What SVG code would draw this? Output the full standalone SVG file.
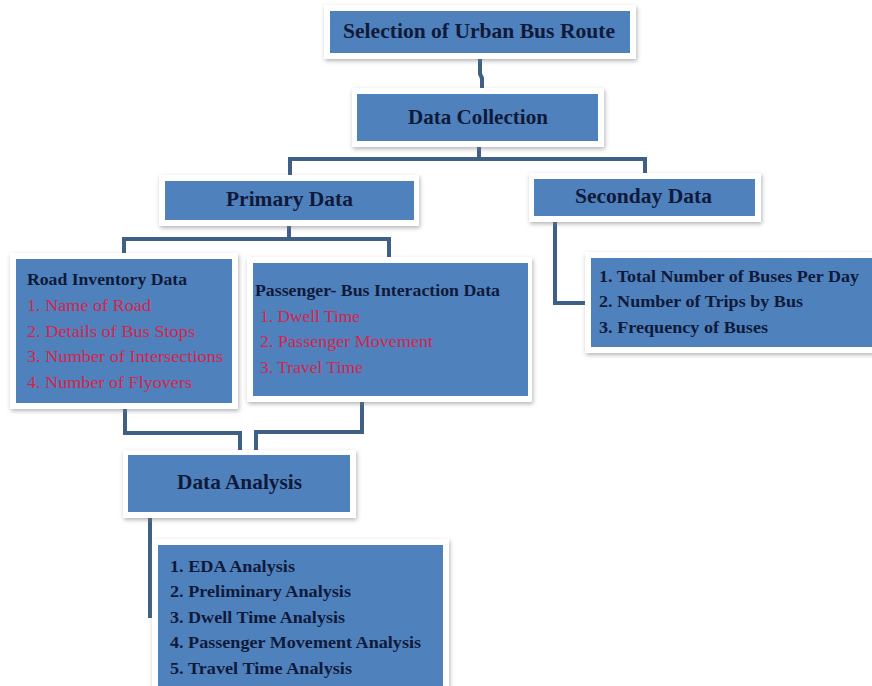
<svg xmlns="http://www.w3.org/2000/svg" width="872" height="686" viewBox="0 0 872 686">
<defs>
<filter id="sh" x="-10%" y="-20%" width="120%" height="140%">
<feDropShadow dx="1" dy="2" stdDeviation="2" flood-color="#777" flood-opacity="0.55"/>
</filter>
<style>
.frame{fill:#fff;filter:url(#sh)}
.blue{fill:#4f81bd}
.t{font-family:"Liberation Serif","Times New Roman",serif;font-weight:bold;fill:#0f1a3a}
.h{font-size:21px}
.s{font-size:16.5px}
.r{font-family:"Liberation Serif","Times New Roman",serif;font-size:16.5px;fill:#d8244c}
.c{fill:none;stroke:#3f5f86;stroke-width:4;stroke-linejoin:miter}
</style>
</defs>
<rect width="872" height="686" fill="#fff"/>
<g id="connectors">
<path class="c" d="M480 59 V74 L482 78 V92"/>
<path class="c" d="M479 147 V159"/>
<path class="c" d="M290 175 V159 H645 V173"/>
<path class="c" d="M289 226 V239"/>
<path class="c" d="M124 253 V239 H389 V257"/>
<path class="c" d="M555 222 V303 H587"/>
<path class="c" d="M125 409 V433 H240 V450"/>
<path class="c" d="M362 402 V432 H256 V450"/>
<path class="c" d="M150 518 V618"/>
</g>
<g id="selection">
<rect class="frame" x="324" y="5" width="312" height="54"/>
<rect class="blue" x="330" y="11" width="300" height="42"/>
<text class="t h" x="343" y="38" textLength="272" lengthAdjust="spacingAndGlyphs">Selection of Urban  Bus Route</text>
</g>
<g id="data-collection">
<rect class="frame" x="352" y="88" width="252" height="59"/>
<rect class="blue" x="357" y="94" width="241" height="47"/>
<text class="t h" x="408" y="124" textLength="140" lengthAdjust="spacingAndGlyphs">Data Collection</text>
</g>
<g id="primary-data">
<rect class="frame" x="159" y="175" width="260" height="51"/>
<rect class="blue" x="165" y="181" width="249" height="39"/>
<text class="t h" x="226" y="206" textLength="127" lengthAdjust="spacingAndGlyphs">Primary  Data</text>
</g>
<g id="secondary-data">
<rect class="frame" x="529" y="173" width="232" height="49"/>
<rect class="blue" x="534" y="179" width="221" height="37"/>
<text class="t h" x="575" y="203" textLength="137" lengthAdjust="spacingAndGlyphs">Seconday Data</text>
</g>
<g id="secondary-list">
<rect class="frame" x="585" y="252" width="295" height="101"/>
<rect class="blue" x="591" y="258" width="290" height="89"/>
<text class="t s" x="599" y="282" textLength="260" lengthAdjust="spacingAndGlyphs">1. Total  Number  of  Buses Per Day</text>
<text class="t s" x="599" y="307" textLength="204" lengthAdjust="spacingAndGlyphs">2. Number  of Trips  by  Bus</text>
<text class="t s" x="599" y="333" textLength="169" lengthAdjust="spacingAndGlyphs">3. Frequency  of  Buses</text>
</g>
<g id="road-inventory">
<rect class="frame" x="10" y="253" width="228" height="156"/>
<rect class="blue" x="16" y="259" width="216" height="144"/>
<text class="t" font-size="16" x="27" y="285" textLength="160" lengthAdjust="spacingAndGlyphs">Road  Inventory  Data</text>
<text class="r" x="27" y="311" textLength="124" lengthAdjust="spacingAndGlyphs">1. Name  of Road</text>
<text class="r" x="27" y="337" textLength="168" lengthAdjust="spacingAndGlyphs">2. Details of Bus Stops</text>
<text class="r" x="27" y="362" textLength="196" lengthAdjust="spacingAndGlyphs">3. Number  of  Intersections</text>
<text class="r" x="27" y="388" textLength="165" lengthAdjust="spacingAndGlyphs">4. Number  of  Flyovers</text>
</g>
<g id="passenger-bus">
<rect class="frame" x="247" y="257" width="285" height="145"/>
<rect class="blue" x="253" y="263" width="275" height="133"/>
<text class="t" font-size="16" x="255" y="296" textLength="245" lengthAdjust="spacingAndGlyphs">Passenger- Bus Interaction  Data</text>
<text class="r" x="260" y="322" textLength="100" lengthAdjust="spacingAndGlyphs">1. Dwell  Time</text>
<text class="r" x="260" y="347" textLength="173" lengthAdjust="spacingAndGlyphs">2. Passenger Movement</text>
<text class="r" x="260" y="373" textLength="103" lengthAdjust="spacingAndGlyphs">3. Travel Time</text>
</g>
<g id="data-analysis">
<rect class="frame" x="123" y="450" width="233" height="68"/>
<rect class="blue" x="128" y="455" width="222" height="57"/>
<text class="t h" x="177" y="489" textLength="125" lengthAdjust="spacingAndGlyphs">Data Analysis</text>
</g>
<g id="analysis-list">
<rect class="frame" x="152" y="539" width="297" height="160"/>
<rect class="blue" x="158" y="545" width="285" height="150"/>
<text class="t s" x="170" y="572" textLength="125" lengthAdjust="spacingAndGlyphs">1. EDA  Analysis</text>
<text class="t s" x="170" y="597" textLength="181" lengthAdjust="spacingAndGlyphs">2. Preliminary  Analysis</text>
<text class="t s" x="170" y="623" textLength="175" lengthAdjust="spacingAndGlyphs">3. Dwell  Time  Analysis</text>
<text class="t s" x="170" y="648" textLength="251" lengthAdjust="spacingAndGlyphs">4. Passenger Movement   Analysis</text>
<text class="t s" x="170" y="674" textLength="182" lengthAdjust="spacingAndGlyphs">5. Travel  Time  Analysis</text>
</g>
</svg>
